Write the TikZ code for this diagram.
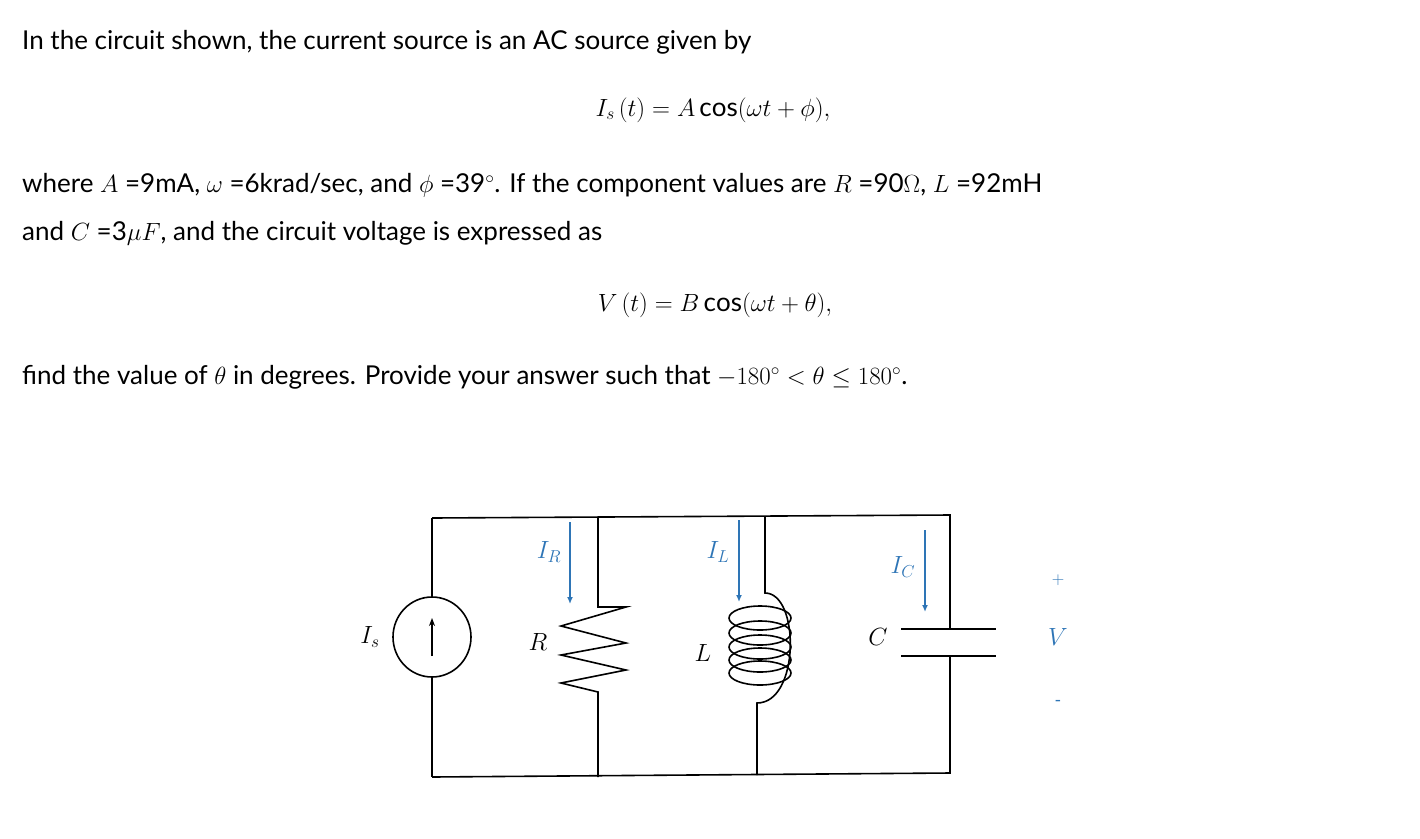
\documentclass[tikz,border=0pt]{standalone}
\usepackage{fontspec}
\setmainfont{Lato}
\usepackage{amsmath}
\usepackage{amssymb}
\usetikzlibrary{positioning}
\usetikzlibrary{arrows.meta}
\usetikzlibrary{shapes.geometric}
\definecolor{curblue}{RGB}{46,117,182}
\tikzset{
  txt/.style={anchor=west, inner sep=0pt, font=\fontsize{26}{30}\selectfont},
  eqn/.style={inner sep=0pt, font=\fontsize{26}{30}\selectfont},
  wire/.style={line width=1.6pt},
  cur/.style={curblue, line width=1.6pt, -{Latex[length=7pt,width=6pt]}},
  lbl/.style={inner sep=0pt, font=\fontsize{26}{30}\selectfont},
  blbl/.style={lbl, text=curblue}
}
\begin{document}
\begin{tikzpicture}[x=1pt, y=-1pt]
\useasboundingbox (0,0) rectangle (1420,838);

% problem text
\node[txt] (l1) at (22,42) {In the circuit shown, the current source is an AC source given by};
\node[eqn] (e1) at (713,110) {$I_s\,(t) = A\cos(\omega t+\phi),$};
\node[txt] (l2) at (22,185) {where $A$ =9mA, $\omega$ =6krad/sec, and $\phi$ =39$^\circ$. If the component values are $R$ =90$\Omega$, $L$ =92mH};
\node[txt] (l3) at (22,233) {and $C$ =3$\mu F$, and the circuit voltage is expressed as};
\node[eqn] (e2) at (715,305) {$V\,(t) = B\cos(\omega t+\theta),$};
\node[txt] (l4) at (22,377) {find the value of $\theta$ in degrees. Provide your answer such that $-180^\circ<\theta\le180^\circ$.};

% corners and branch points
\coordinate (tl) at (432,518);
\coordinate (tr) at (950,515);
\coordinate (bl) at (432,777);
\coordinate (br) at (950,773);
\coordinate (rtop) at (598,518);
\coordinate (rbot) at (598,777);
\coordinate (ltop) at (765,517);
\coordinate (lbot) at (757,775);

% source
\node[draw, wire, ellipse, minimum width=78pt, minimum height=80pt, inner sep=0pt] (src) at (432,637) {};
\draw[wire] (tl) -- (src.north);
\draw[wire] (src.south) -- (bl);
\draw[line width=1.6pt, -{Stealth[length=8pt,width=6pt]}] (432,656) -- (432,618);

% outer wires
\draw[wire] (bl) -- (br) -- (950,656);
\draw[wire] (tl) -- (tr) -- (950,629);

% resistor
\draw[wire] (rtop) -- (598,607) -- (626,607) -- (561,626) -- (626,643)
  -- (561,655) -- (626,670) -- (561,683) -- (598,692) -- (rbot);

% inductor
\draw[wire] (ltop) -- (765,593) .. controls (800,593) and (800,703) .. (757,703) -- (lbot);
\foreach \yy in {618,633,647,660,673}
  \draw[wire] (760,\yy) ellipse (31pt and 12pt);

% capacitor
\draw[wire] (901,629) -- (996,629);
\draw[wire] (901,656) -- (996,656);

% currents
\draw[cur] (570,522) -- (570,604);
\draw[cur] (739,520) -- (739,602);
\draw[cur] (925,530) -- (925,612);

% labels
\node[lbl] (isl) at (370,637) {$I_s$};
\node[lbl] (rl) at (538,642) {$R$};
\node[lbl] (ll) at (703,653) {$L$};
\node[lbl] (cl) at (878,637) {$C$};
\node[blbl] (irl) at (549,552) {$I_R$};
\node[blbl] (ill) at (718,552) {$I_L$};
\node[blbl] (icl) at (903,567) {$I_C$};
\node[blbl, font=\fontsize{18}{20}\selectfont] (vp) at (1058,580) {$+$};
\node[blbl] (vl) at (1058,637) {$V$};
\node[blbl, font=\fontsize{18}{20}\selectfont] (vm) at (1058,703) {-};
\end{tikzpicture}
\end{document}
